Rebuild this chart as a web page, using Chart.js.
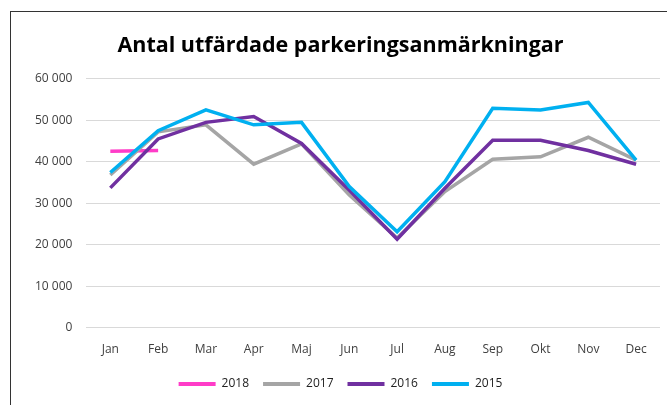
<!DOCTYPE html>
<html>
<head>
<meta charset="utf-8">
<script src="https://cdn.jsdelivr.net/npm/chart.js@4"></script>
<style>
  html, body { margin: 0; padding: 0; background: #fff; }
  #wrap { position: relative; width: 667px; height: 405px; overflow: hidden; }
  #frame { position: absolute; left: 10px; top: 11px; width: 700px; height: 420px;
           border-left: 1px solid #333; border-top: 1px solid #333; box-sizing: border-box; }
  canvas { position: absolute; left: 0; top: 0; }
</style>
</head>
<body>
<div id="wrap">
  <div id="frame"></div>
  <canvas id="myChart" width="667" height="405"></canvas>
</div>
<script>
// månader
const months = ['Jan', 'Feb', 'Mar', 'Apr', 'Maj', 'Jun', 'Jul', 'Aug', 'Sep', 'Okt', 'Nov', 'Dec'];

// antal per år
const y2018 = [42500, 42700, null, null, null, null, null, null, null, null, null, null];
const y2017 = [36800, 47200, 48900, 39400, 44300, 32000, 21600, 32800, 40600, 41200, 45900, 40400];
const y2016 = [33700, 45500, 49500, 50900, 44400, 33100, 21300, 33600, 45200, 45200, 42700, 39400];
const y2015 = [37400, 47500, 52500, 48900, 49500, 34000, 23100, 35200, 52900, 52500, 54300, 40400];

const yTicks = [0, 10000, 20000, 30000, 40000, 50000, 60000];

const fmt = v => String(v).replace(/\B(?=(\d{3})+(?!\d))/g, ' ');

const mkSet = (label, data, color, order) => ({
  label: label,
  data: data,
  borderColor: color,
  backgroundColor: color,
  borderWidth: 3.5,
  pointRadius: 0,
  tension: 0,
  spanGaps: false,
  order: order
});

const ctx = document.getElementById('myChart');

new Chart(ctx, {
  type: 'line',
  data: {
    labels: months,
    datasets: [
      mkSet('2018', y2018, '#FF3CC8', 3),
      mkSet('2017', y2017, '#A5A5A5', 2),
      mkSet('2016', y2016, '#7030A0', 1),
      mkSet('2015', y2015, '#00B0F0', 0)
    ]
  },
  options: {
    responsive: false,
    animation: false,
    layout: {
      padding: { left: 21, right: 7, top: 33, bottom: 5 }
    },
    plugins: {
      title: {
        display: true,
        text: 'Antal utfärdade parkeringsanmärkningar',
        color: '#000',
        font: { family: 'Open Sans', size: 21.5, weight: 'bold' },
        padding: { top: 0, bottom: 20 }
      },
      legend: {
        display: true,
        position: 'bottom',
        labels: {
          color: '#222',
          font: { family: 'Open Sans', size: 12 },
          boxWidth: 37,
          boxHeight: 4,
          padding: 14,
          sort: (a, b) => a.datasetIndex - b.datasetIndex,
          generateLabels: chart => {
            const items = Chart.defaults.plugins.legend.labels.generateLabels(chart);
            items.forEach(it => { it.lineWidth = 0; });
            return items;
          }
        }
      },
      tooltip: { enabled: false }
    },
    scales: {
      x: {
        offset: true,
        grid: { display: false },
        border: { display: false },
        ticks: {
          color: '#404040',
          font: { family: 'Open Sans', size: 12 },
          padding: 7,
          maxRotation: 0
        }
      },
      y: {
        min: 0,
        max: 60000,
        afterBuildTicks: axis => { axis.ticks = yTicks.map(v => ({ value: v })); },
        grid: { color: '#D9D9D9', lineWidth: 1, drawTicks: false },
        border: { display: false },
        ticks: {
          color: '#404040',
          font: { family: 'Open Sans', size: 12 },
          padding: 14,
          callback: v => fmt(v)
        }
      }
    }
  }
});
</script>
</body>
</html>
